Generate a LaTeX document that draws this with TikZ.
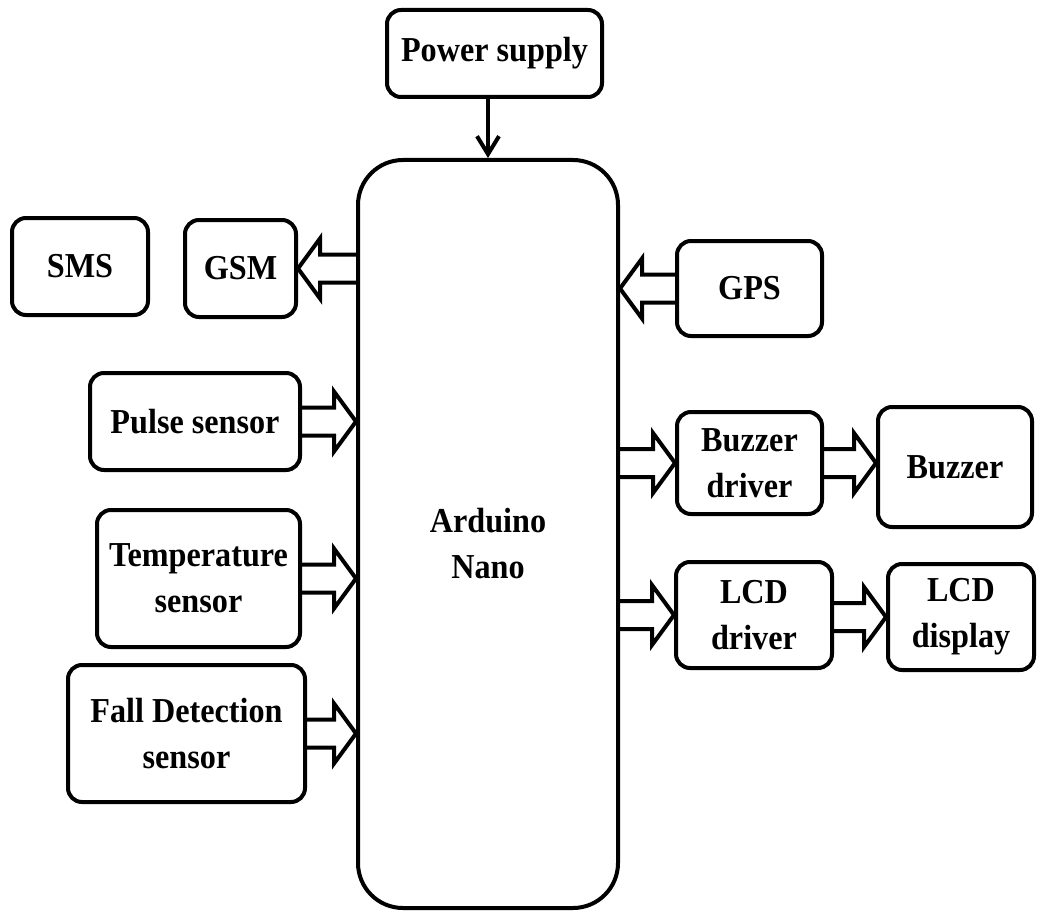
\documentclass[tikz,border=0pt]{standalone}
\usepackage{fontspec}
\setmainfont{Liberation Serif}[FakeStretch=0.92]
\usetikzlibrary{arrows.meta,calc}
\newlength\sw \setlength\sw{14pt}
\newlength\hw \setlength\hw{30pt}
\newlength\hl \setlength\hl{22pt}
\newcommand\fatarrow[2]{\draw[fatline] let \p1=(#1), \p2=(#2), \n1={ifthenelse(\x2>\x1,1,-1)} in
  (\x1,\y1+\sw) -- (\x2-\n1*\hl,\y1+\sw) -- (\x2-\n1*\hl,\y1+\hw) -- (\x2,\y1)
  -- (\x2-\n1*\hl,\y1-\hw) -- (\x2-\n1*\hl,\y1-\sw) -- (\x1,\y1-\sw);}
\tikzset{
  txt/.style={align=center, inner sep=0pt, font=\fontsize{35}{46}\selectfont\bfseries},
  box/.style={txt, draw, line width=4pt, rounded corners=14pt},
  fatline/.style={draw, line width=4pt, line join=miter},
  thinarrow/.style={draw, line width=4pt, -{Straight Barb[length=18pt,width=22pt]}}
}
\begin{document}
\begin{tikzpicture}[x=1pt,y=-1pt]
\useasboundingbox (0,0) rectangle (1038,912);
\node[box, minimum width=215pt, minimum height=87pt] (power) at (494.5,53.5) {Power supply};
\node[box, rounded corners=45pt, minimum width=260pt, minimum height=748pt] (ard) at (488,534) {};
\node[txt] (ardtext) at ($(ard.center)+(0,10)$) {Arduino\\Nano};
\node[box, minimum width=136pt, minimum height=97pt] (sms) at (80,266.5) {SMS};
\node[box, minimum width=111pt, minimum height=97pt] (gsm) at (240.5,268.5) {GSM};
\node[box, minimum width=145pt, minimum height=95pt] (gps) at (749.5,288.5) {GPS};
\node[box, minimum width=210pt, minimum height=97pt] (pulse) at (195,421.5) {Pulse sensor};
\node[box, minimum width=203pt, minimum height=137pt] (temp) at (198.5,578.5) {Temperature\\sensor};
\node[box, minimum width=237pt, minimum height=137pt] (fall) at (186.5,733.5) {Fall Detection\\sensor};
\node[box, minimum width=145pt, minimum height=102pt] (bdrv) at (749.5,463) {Buzzer\\driver};
\node[box, minimum width=154pt, minimum height=120pt] (buzz) at (955,467) {Buzzer};
\node[box, minimum width=156pt, minimum height=106pt] (ldrv) at (754,615) {LCD\\driver};
\node[box, minimum width=146pt, minimum height=106pt] (ldisp) at (961,617) {LCD\\display};
\draw[thinarrow] (power.south -| ard.north) -- (ard.north);
\fatarrow{ard.west |- gsm.east}{gsm.east}
\fatarrow{gps.west}{ard.east |- gps.west}
\fatarrow{pulse.east}{ard.west |- pulse.east}
\fatarrow{temp.east}{ard.west |- temp.east}
\fatarrow{fall.east}{ard.west |- fall.east}
\fatarrow{ard.east |- bdrv.west}{bdrv.west}
\fatarrow{bdrv.east}{bdrv.east -| buzz.west}
\fatarrow{ard.east |- ldrv.west}{ldrv.west}
\fatarrow{ldrv.east |- ldisp.west}{ldisp.west}
\end{tikzpicture}
\end{document}
